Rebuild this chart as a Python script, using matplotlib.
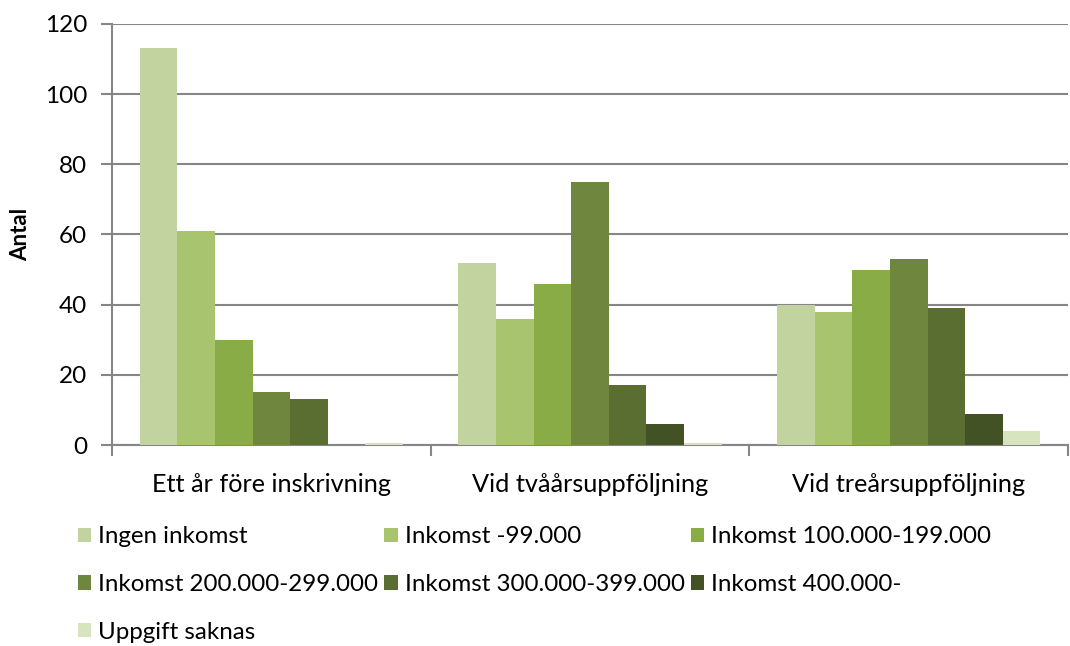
import numpy as np
import matplotlib.pyplot as plt

plt.rcParams['font.family'] = ['Lato', 'DejaVu Sans']

categories = ['Ett år före inskrivning', 'Vid tvåårsuppföljning', 'Vid treårsuppföljning']
series = ['Ingen inkomst', 'Inkomst -99.000', 'Inkomst 100.000-199.000',
          'Inkomst 200.000-299.000', 'Inkomst 300.000-399.000', 'Inkomst 400.000-',
          'Uppgift saknas']
values = [
    [113, 52, 40],
    [61, 36, 38],
    [30, 46, 50],
    [15, 75, 53],
    [13, 17, 39],
    [0, 6, 9],
    [0.5, 0.5, 4],
]
colors = ['#C3D39F', '#A8C46E', '#8AAC46', '#6E863D', '#5A6E31', '#425224', '#D7E4BD']

fig = plt.figure(figsize=(10.70, 6.46), dpi=100)
ax = fig.add_axes([0.1047, 0.311, 0.8935, 0.652])

x = np.arange(len(categories))
w = 0.118
handles = []
for i, (name, vals, c) in enumerate(zip(series, values, colors)):
    off = (i - 3) * w
    h = ax.bar(x + off, vals, width=w, color=c, label=name, zorder=3)
    handles.append(h)

ax.set_xlim(-0.5, 2.5)
ax.set_ylim(0, 120)
ax.set_yticks(np.arange(0, 121, 20))
ax.yaxis.grid(True, color='#868686', linewidth=1.5, zorder=0)

# category boundaries get tick marks, labels sit in the middle
ax.set_xticks([-0.5, 0.5, 1.5, 2.5])
ax.set_xticklabels([])
ax.set_xticks(x, minor=True)
ax.set_xticklabels(categories, minor=True, fontsize=18.2)
ax.tick_params(axis='x', which='major', length=8, width=1.5, color='#868686')
ax.tick_params(axis='x', which='minor', length=0, pad=20)
ax.tick_params(axis='y', length=8, width=1.5, color='#868686', labelsize=17.5, pad=10)

for s in ['top', 'right']:
    ax.spines[s].set_visible(False)
for s in ['left', 'bottom']:
    ax.spines[s].set_color('#868686')
    ax.spines[s].set_linewidth(1.5)

ax.set_ylabel('Antal', fontsize=16, fontweight='bold', labelpad=10)

# Excel-style legend filled row by row
order = [0, 3, 6, 1, 4, 2, 5]
ax.legend([handles[i] for i in order], [series[i] for i in order],
          ncol=3, loc='upper left', bbox_to_anchor=(-0.046, -0.17),
          frameon=False, fontsize=17.4, handlelength=0.55, handleheight=0.55,
          handletextpad=0.3, columnspacing=0.25, labelspacing=1.1,
          borderaxespad=0)

fig.savefig('out.png', dpi=100)
